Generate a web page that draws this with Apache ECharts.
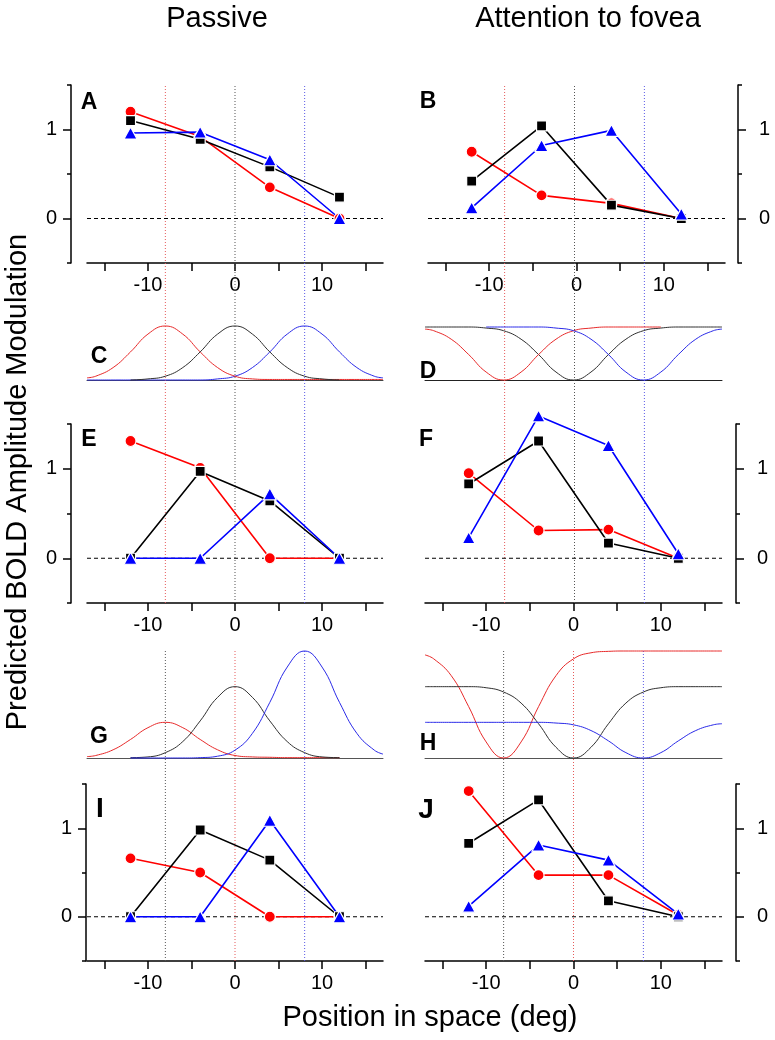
<!DOCTYPE html>
<html>
<head>
<meta charset="utf-8">
<script src="https://cdn.jsdelivr.net/npm/echarts@6/dist/echarts.min.js"></script>
<style>html,body{margin:0;padding:0;background:#fff}#chart{width:775px;height:1040px}</style>
</head>
<body>
<div id="chart"></div>
<script>
const xPos = [-12, -4, 4, 12];
const xTicks = [-15, -10, -5, 0, 5, 10, 15];
const xLabels = [-10, 0, 10];
const yLabels = [0, 1];
const centers = [-8, 0, 8];

// A - passive
const aRed   = [1.20, 0.92, 0.35, 0.00];
const aBlack = [1.10, 0.89, 0.58, 0.24];
const aBlue  = [0.96, 0.97, 0.66, 0.00];
// B - attention to fovea
const bRed   = [0.75, 0.26, 0.17, 0.00];
const bBlack = [0.42, 1.04, 0.15, 0.00];
const bBlue  = [0.12, 0.82, 0.99, 0.05];
// E
const eRed   = [1.31, 1.01, 0.00, 0.00];
const eBlack = [0.00, 0.97, 0.64, 0.00];
const eBlue  = [0.00, 0.00, 0.72, 0.00];
// F
const fRed   = [0.95, 0.31, 0.32, 0.00];
const fBlack = [0.83, 1.31, 0.17, 0.00];
const fBlue  = [0.23, 1.59, 1.26, 0.05];
// I
const iRed   = [0.66, 0.50, 0.00, 0.00];
const iBlack = [0.00, 0.98, 0.64, 0.00];
const iBlue  = [0.00, 0.00, 1.09, 0.00];
// J
const jRed   = [1.42, 0.47, 0.47, 0.02];
const jBlack = [0.83, 1.32, 0.18, 0.00];
const jBlue  = [0.12, 0.81, 0.64, 0.03];

// receptive field / attention profiles (C, D, G, H)
const curveX = [-17, -16, -14, -12, -10, -8, -6, -4, -2, 0, 2, 4, 6, 8, 10, 12, 14, 16, 17];
const cRed   = [0.04, 0.07, 0.23, 0.52, 0.85, 1.00, 0.85, 0.52, 0.23, 0.07, 0.02, 0.01, 0.01, 0.01, 0.01, 0.01, 0.01, 0.01, 0.01];
const cBlack = [null, null, null, 0.00, 0.02, 0.07, 0.23, 0.52, 0.85, 1.00, 0.85, 0.52, 0.23, 0.07, 0.02, 0.00, null, null, null];
const cBlue  = [0.00, 0.00, 0.00, 0.00, 0.00, 0.00, 0.00, 0.00, 0.02, 0.07, 0.23, 0.52, 0.85, 1.00, 0.85, 0.52, 0.23, 0.07, 0.04];
const dRed   = [0.96, 0.93, 0.77, 0.48, 0.15, 0.00, 0.15, 0.48, 0.77, 0.93, 0.98, 1.00, 1.00, 1.00, 1.00, null, null, null, null];
const dBlack = [1.00, 1.00, 1.00, 1.00, 0.98, 0.93, 0.77, 0.48, 0.15, 0.00, 0.15, 0.48, 0.77, 0.93, 0.98, 1.00, 1.00, 1.00, 1.00];
const dBlue  = [null, null, null, null, 1.00, 1.00, 1.00, 1.00, 0.98, 0.93, 0.77, 0.48, 0.15, 0.00, 0.15, 0.48, 0.77, 0.93, 0.96];
const gRed   = [0.04, 0.07, 0.23, 0.52, 0.85, 1.00, 0.85, 0.52, 0.23, 0.07, 0.03, 0.02, 0.01, 0.01, 0.01, 0.01, null, null, null];
const gBlack = [null, null, null, 0.01, 0.03, 0.15, 0.46, 1.04, 1.70, 2.00, 1.70, 1.04, 0.46, 0.15, 0.03, 0.01, null, null, null];
const gBlue  = [null, null, null, 0.00, 0.00, 0.00, 0.00, 0.01, 0.05, 0.22, 0.69, 1.56, 2.55, 3.00, 2.55, 1.56, 0.69, 0.22, 0.11];
const hRed   = [2.89, 2.78, 2.31, 1.44, 0.45, 0.00, 0.45, 1.44, 2.31, 2.78, 2.95, 2.99, 3.00, 3.00, 3.00, 3.00, 3.00, 3.00, 3.00];
const hBlack = [2.00, 2.00, 2.00, 2.00, 1.97, 1.85, 1.54, 0.96, 0.30, 0.00, 0.30, 0.96, 1.54, 1.85, 1.97, 2.00, 2.00, 2.00, 2.00];
const hBlue  = [1.00, 1.00, 1.00, 1.00, 1.00, 1.00, 1.00, 1.00, 0.98, 0.93, 0.77, 0.48, 0.15, 0.00, 0.15, 0.48, 0.77, 0.93, 0.96];

const font = 'Liberation Sans, Arial, Helvetica, sans-serif';
const RED = '#ff0000', BLACK = '#000000', BLUE = '#0000ff';

const grids = [], xAxes = [], yAxes = [], series = [];

function scatterPanel(g, side, off, red, black, blue) {
  grids.push(g);
  const gi = grids.length - 1;
  const xi = xAxes.length;
  xAxes.push({
    gridIndex: gi, type: 'value', min: -17, max: 17,
    axisLine: { onZero: false, lineStyle: { color: '#000', width: 1.5 } },
    axisTick: { customValues: xTicks, length: 8, lineStyle: { color: '#000', width: 1.5 } },
    axisLabel: { customValues: xLabels, fontSize: 20, color: '#000', margin: 12, fontFamily: font },
    splitLine: { show: false }
  });
  const yi = yAxes.length;
  yAxes.push({
    gridIndex: gi, type: 'value', min: -0.5, max: 1.5, interval: 0.5, position: side, offset: off,
    axisLine: { show: true, onZero: false, lineStyle: { color: '#000', width: 1.5 } },
    axisTick: { length: 4, lineStyle: { color: '#000', width: 1.5 } },
    axisLabel: { show: false }, splitLine: { show: false }
  });
  yAxes.push({
    gridIndex: gi, type: 'value', min: -0.5, max: 1.5, position: side, offset: off,
    axisLine: { show: false, onZero: false },
    axisTick: { customValues: yLabels, length: 8, lineStyle: { color: '#000', width: 1.5 } },
    axisLabel: { customValues: yLabels, fontSize: 20, color: '#000', fontFamily: font, margin: side === 'left' ? 14 : 21 },
    splitLine: { show: false }
  });
  // dashed zero line
  series.push({
    type: 'line', xAxisIndex: xi, yAxisIndex: yi, data: [[-17, 0], [17, 0]],
    showSymbol: false, silent: true,
    lineStyle: { color: '#000', width: 1, type: [4, 3] }
  });
  const sets = [[red, RED, 'circle', 11], [black, BLACK, 'rect', 10], [blue, BLUE, 'triangle', [13, 12]]];
  sets.forEach(([vals, color, sym, size]) => {
    series.push({
      type: 'line', xAxisIndex: xi, yAxisIndex: yi, clip: false,
      data: xPos.map((x, i) => [x, vals[i]]),
      symbol: sym, symbolSize: size, showAllSymbol: true,
      lineStyle: { color: color, width: 1.6 },
      itemStyle: { color: color, borderColor: '#fff', borderWidth: 1.2 },
      emphasis: { disabled: true }
    });
  });
}

function curvePanel(g, ymax, baseColor, curves) {
  grids.push(g);
  const gi = grids.length - 1;
  const xi = xAxes.length, yi = yAxes.length;
  xAxes.push({
    gridIndex: gi, type: 'value', min: -17, max: 17,
    axisLine: { show: true, onZero: false, lineStyle: { color: baseColor, width: 1 } },
    axisTick: { show: false }, axisLabel: { show: false }, splitLine: { show: false }
  });
  yAxes.push({ gridIndex: gi, type: 'value', min: 0, max: ymax, show: false, splitLine: { show: false } });
  curves.forEach(([vals, color]) => {
    series.push({
      type: 'line', xAxisIndex: xi, yAxisIndex: yi, clip: false, silent: true,
      data: curveX.map((x, i) => [x, vals[i] === null ? '-' : vals[i]]),
      smooth: 0.45, showSymbol: false,
      lineStyle: { color: color, width: 1 }
    });
  });
}

function guidePanel(g, colors) {
  grids.push(g);
  const gi = grids.length - 1;
  const xi = xAxes.length, yi = yAxes.length;
  xAxes.push({ gridIndex: gi, type: 'value', min: -17, max: 17, show: false, splitLine: { show: false } });
  yAxes.push({ gridIndex: gi, type: 'value', min: 0, max: 1, show: false, splitLine: { show: false } });
  centers.forEach((c, k) => {
    series.push({
      type: 'line', xAxisIndex: xi, yAxisIndex: yi, silent: true, z: 1,
      data: [[c, 0], [c, 1]], showSymbol: false,
      lineStyle: { color: colors[k], width: 1, type: [1, 2] }
    });
  });
}

const gRedC = '#e65a5a', gBlackC = '#555555', gBlueC = '#5a5ae6';

// dotted guide lines at the three stimulus centres
guidePanel({ left: 87, top: 85, width: 296, height: 518 }, [gRedC, gBlackC, gBlueC]);
guidePanel({ left: 426, top: 85, width: 297, height: 518 }, [gRedC, gBlackC, gBlueC]);
guidePanel({ left: 87, top: 650, width: 296, height: 311 }, [gBlackC, gRedC, gBlueC]);
guidePanel({ left: 425, top: 650, width: 297, height: 311 }, [gBlackC, gRedC, gBlueC]);

const cR = '#e82a2a', cK = '#303030', cB = '#2a2ae8';
curvePanel({ left: 87, top: 326, width: 296, height: 54 }, 1, '#444', [[cBlue, cB], [cRed, cR], [cBlack, cK]]);
curvePanel({ left: 425, top: 327, width: 297, height: 53 }, 1, '#222', [[dBlack, cK], [dRed, cR], [dBlue, cB]]);
curvePanel({ left: 87, top: 651, width: 296, height: 107 }, 3, '#555', [[gRed, cR], [gBlack, cK], [gBlue, cB]]);
curvePanel({ left: 425, top: 651, width: 297, height: 107 }, 3, '#555', [[hRed, cR], [hBlack, cK], [hBlue, cB]]);

scatterPanel({ left: 87, top: 85, width: 296, height: 178 }, 'left', 16, aRed, aBlack, aBlue);
scatterPanel({ left: 428, top: 85, width: 297, height: 178 }, 'right', 13, bRed, bBlack, bBlue);
scatterPanel({ left: 87, top: 424, width: 296, height: 179 }, 'left', 16, eRed, eBlack, eBlue);
scatterPanel({ left: 425, top: 424, width: 297, height: 179 }, 'right', 14, fRed, fBlack, fBlue);
scatterPanel({ left: 87, top: 784, width: 296, height: 177 }, 'left', 1, iRed, iBlack, iBlue);
scatterPanel({ left: 425, top: 784, width: 297, height: 177 }, 'right', 14, jRed, jBlack, jBlue);

function txt(text, x, y, size, weight, rot) {
  return {
    type: 'text', x: x, y: y, rotation: rot || 0, silent: true, z: 100,
    style: {
      text: text, fill: '#000',
      font: (weight || 'normal') + ' ' + size + 'px ' + font,
      align: 'center', verticalAlign: 'middle',
      textAlign: 'center', textVerticalAlign: 'middle'
    }
  };
}

const letters = [
  ['A', 89, 103, 23], ['B', 428, 102, 23], ['C', 99, 357, 23], ['D', 428, 372, 23],
  ['E', 89, 440, 23], ['F', 426, 440, 23], ['G', 99, 737, 23], ['H', 428, 744, 23],
  ['I', 100, 809, 28], ['J', 426, 810, 28]
];

const graphic = [
  txt('Passive', 217, 19, 29),
  txt('Attention to fovea', 588, 19, 29),
  txt('Predicted BOLD Amplitude Modulation', 18, 482, 29, 'normal', Math.PI / 2),
  txt('Position in space (deg)', 430, 1018, 29)
].concat(letters.map(l => txt(l[0], l[1], l[2], l[3], 'bold')));

const chart = echarts.init(document.getElementById('chart'));
chart.setOption({
  animation: false,
  backgroundColor: '#fff',
  grid: grids,
  xAxis: xAxes,
  yAxis: yAxes,
  series: series,
  graphic: graphic
});
</script>
</body>
</html>
